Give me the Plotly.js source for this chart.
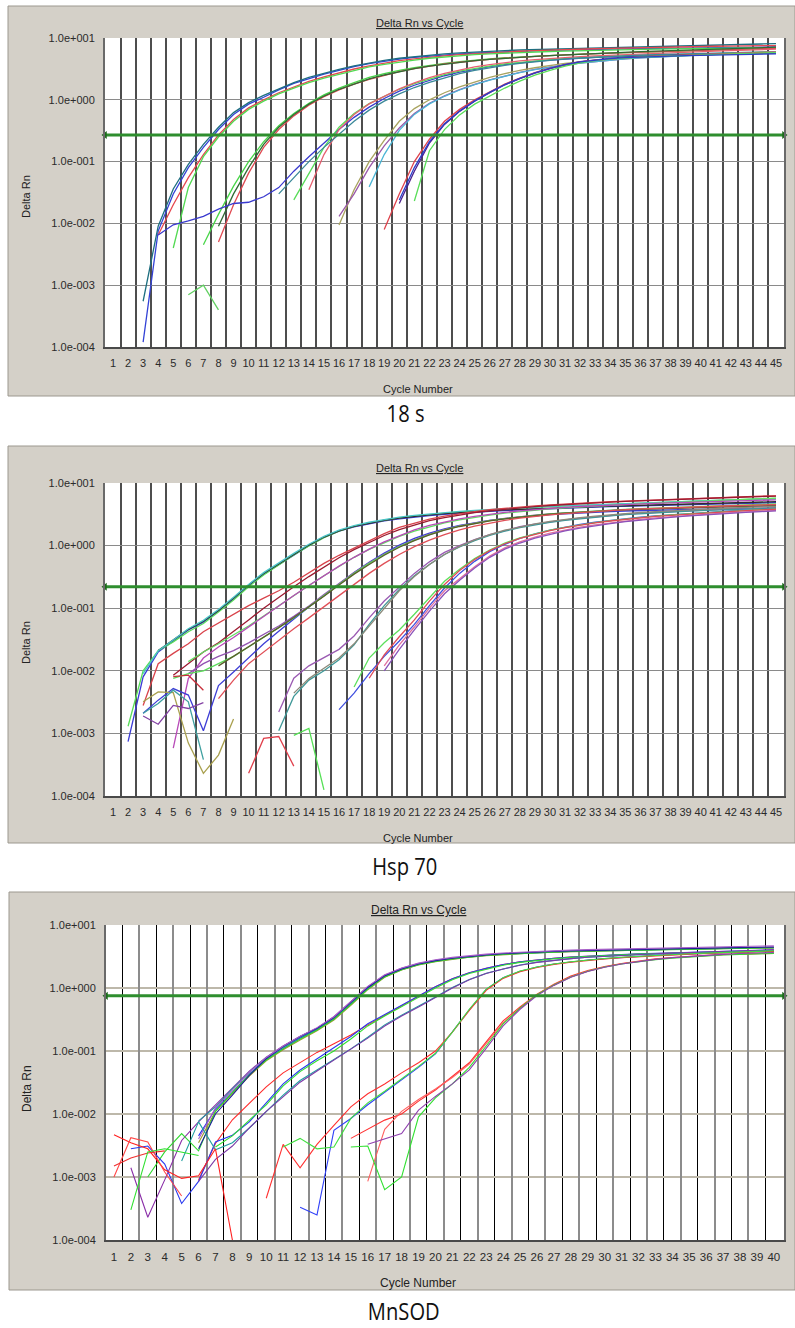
<!DOCTYPE html>
<html>
<head>
<meta charset="utf-8">
<script src="https://cdn.plot.ly/plotly-3.0.1.min.js"></script>
<style>
  html, body { margin: 0; padding: 0; background: #ffffff; }
  #chart { width: 795px; height: 1328px; }
</style>
</head>
<body>
<div id="chart"></div>
<script>
// ---------------------------------------------------------------
// Amplification plots (Delta Rn vs Cycle) for 18 s, Hsp 70, MnSOD
// Each curve: [first cycle, Delta Rn values for consecutive cycles]
// ---------------------------------------------------------------

const rnTickVals = [0.0001, 0.001, 0.01, 0.1, 1, 10];
const rnTickText = ['1.0e-004', '1.0e-003', '1.0e-002', '1.0e-001', '1.0e+000', '1.0e+001'];

const cyclesPanel18s = 45;
const cyclesHsp70 = 45;
const cyclesMnSOD = 40;

const threshold18s = 0.27;
const thresholdHsp70 = 0.22;
const thresholdMnSOD = 0.75;

// ---------------- 18 s ----------------
const rn18_a1 = [0.00012, 0.0075, 0.03, 0.08, 0.17, 0.33, 0.58, 0.85, 1.1, 1.45, 1.85, 2.2, 2.6, 3.0, 3.45, 3.85, 4.2, 4.55, 4.85, 5.1, 5.35, 5.55, 5.7, 5.85, 6.0, 6.1, 6.2, 6.3, 6.4, 6.5, 6.55, 6.6, 6.65, 6.7, 6.75, 6.8, 6.85, 6.9, 6.95, 7.0, 7.05, 7.1, 7.15];
const rn18_a2 = [0.00055, 0.009, 0.036, 0.09, 0.19, 0.36, 0.62, 0.9, 1.18, 1.52, 1.9, 2.3, 2.7, 3.1, 3.55, 3.95, 4.35, 4.7, 5.0, 5.3, 5.55, 5.75, 5.95, 6.1, 6.25, 6.4, 6.5, 6.6, 6.7, 6.8, 6.9, 7.0, 7.1, 7.2, 7.3, 7.4, 7.5, 7.6, 7.7, 7.8, 7.9, 8.0, 8.1];
const rn18_a3 = [0.0065, 0.02, 0.055, 0.13, 0.27, 0.48, 0.74, 1.0, 1.3, 1.62, 1.98, 2.35, 2.75, 3.15, 3.55, 3.95, 4.3, 4.6, 4.9, 5.15, 5.4, 5.6, 5.8, 5.95, 6.1, 6.25, 6.4, 6.5, 6.6, 6.7, 6.8, 6.9, 7.0, 7.1, 7.15, 7.2, 7.3, 7.35, 7.4, 7.45, 7.5, 7.55];
const rn18_a4 = [0.004, 0.038, 0.12, 0.25, 0.45, 0.7, 0.95, 1.25, 1.55, 1.9, 2.25, 2.6, 3.0, 3.4, 3.75, 4.1, 4.4, 4.7, 4.95, 5.2, 5.4, 5.55, 5.7, 5.85, 5.95, 6.05, 6.15, 6.25, 6.35, 6.45, 6.5, 6.55, 6.6, 6.65, 6.7, 6.75, 6.8, 6.85, 6.9, 6.95, 7.0];
const rn18_n1 = [0.0007, 0.001, 0.0004];
const rn18_b1 = [0.0045, 0.014, 0.04, 0.1, 0.21, 0.38, 0.6, 0.88, 1.2, 1.55, 1.9, 2.3, 2.65, 3.0, 3.3, 3.6, 3.9, 4.15, 4.4, 4.6, 4.8, 4.95, 5.1, 5.25, 5.4, 5.5, 5.6, 5.7, 5.8, 5.9, 6.0, 6.1, 6.2, 6.3, 6.4, 6.5, 6.6, 6.7, 6.8];
const rn18_b2 = [0.005, 0.02, 0.065, 0.17, 0.33, 0.55, 0.82, 1.12, 1.45, 1.8, 2.15, 2.5, 2.85, 3.2, 3.5, 3.8, 4.05, 4.3, 4.5, 4.7, 4.9, 5.05, 5.2, 5.35, 5.5, 5.6, 5.7, 5.8, 5.9, 6.0, 6.1, 6.2, 6.3, 6.4, 6.5, 6.6, 6.7, 6.8];
const rn18_b3 = [0.009, 0.03, 0.08, 0.19, 0.36, 0.58, 0.85, 1.15, 1.48, 1.82, 2.18, 2.52, 2.86, 3.2, 3.5, 3.78, 4.05, 4.3, 4.5, 4.7, 4.88, 5.05, 5.2, 5.35, 5.5, 5.62, 5.75, 5.88, 6.0, 6.12, 6.25, 6.38, 6.5, 6.62, 6.75, 6.88, 7.0, 7.1];
const rn18_c1 = [0.0065, 0.0095, 0.011, 0.013, 0.017, 0.021, 0.022, 0.027, 0.038, 0.07, 0.12, 0.2, 0.33, 0.52, 0.76, 1.05, 1.38, 1.72, 2.08, 2.45, 2.8, 3.15, 3.45, 3.72, 3.98, 4.2, 4.4, 4.58, 4.72, 4.85, 4.95, 5.05, 5.12, 5.2, 5.27, 5.34, 5.4, 5.46, 5.52, 5.58, 5.64, 5.7];
const rn18_c2 = [0.024, 0.065, 0.17, 0.36, 0.6, 0.87, 1.15, 1.48, 1.82, 2.18, 2.55, 2.9, 3.22, 3.52, 3.8, 4.05, 4.28, 4.48, 4.65, 4.8, 4.92, 5.03, 5.13, 5.22, 5.3, 5.38, 5.46, 5.54, 5.62, 5.7, 5.78, 5.86, 5.94];
const rn18_c3 = [0.035, 0.13, 0.33, 0.58, 0.86, 1.15, 1.5, 1.88, 2.28, 2.68, 3.05, 3.4, 3.72, 4.0, 4.25, 4.48, 4.68, 4.85, 5.0, 5.14, 5.27, 5.4, 5.52, 5.64, 5.76, 5.88, 6.0, 6.12, 6.24, 6.36, 6.48, 6.6];
const rn18_c4 = [0.03, 0.055, 0.1, 0.17, 0.28, 0.45, 0.68, 0.95, 1.25, 1.58, 1.92, 2.28, 2.64, 3.0, 3.32, 3.62, 3.9, 4.15, 4.38, 4.58, 4.75, 4.9, 5.03, 5.15, 5.26, 5.36, 5.45, 5.54, 5.63, 5.72, 5.8, 5.88, 5.96, 6.04];
const rn18_d1 = [0.0094, 0.035, 0.1, 0.22, 0.45, 0.72, 1.0, 1.3, 1.62, 1.95, 2.3, 2.65, 3.0, 3.3, 3.6, 3.88, 4.12, 4.35, 4.55, 4.72, 4.88, 5.02, 5.15, 5.28, 5.4, 5.52, 5.64, 5.76, 5.88, 6.0];
const rn18_d2 = [0.013, 0.03, 0.08, 0.18, 0.35, 0.6, 0.88, 1.16, 1.46, 1.78, 2.1, 2.44, 2.78, 3.1, 3.4, 3.68, 3.94, 4.18, 4.4, 4.6, 4.78, 4.94, 5.08, 5.2, 5.32, 5.44, 5.56, 5.68, 5.8, 5.92];
const rn18_d3 = [0.039, 0.13, 0.32, 0.58, 0.86, 1.14, 1.44, 1.76, 2.08, 2.42, 2.76, 3.08, 3.38, 3.66, 3.92, 4.16, 4.38, 4.58, 4.76, 4.92, 5.06, 5.18, 5.3, 5.42, 5.54, 5.66, 5.78, 5.9];
const rn18_e1 = [0.021, 0.07, 0.2, 0.4, 0.65, 0.95, 1.3, 1.75, 2.2, 2.7, 3.2, 3.7, 4.15, 4.45, 4.68, 4.86, 5.0, 5.12, 5.22, 5.32, 5.4, 5.48, 5.55, 5.62, 5.68, 5.74];
const rn18_e2 = [0.008, 0.03, 0.1, 0.23, 0.45, 0.7, 1.0, 1.35, 1.8, 2.25, 2.75, 3.25, 3.7, 4.1, 4.4, 4.62, 4.8, 4.95, 5.08, 5.2, 5.3, 5.4, 5.5, 5.6, 5.7, 5.8, 5.9];
const rn18_e3 = [0.023, 0.15, 0.33, 0.57, 0.85, 1.15, 1.55, 2.0, 2.5, 3.0, 3.5, 3.95, 4.3, 4.55, 4.75, 4.9, 5.02, 5.12, 5.22, 5.32, 5.42, 5.52, 5.62, 5.72, 5.82];
const rn18_e4 = [0.024, 0.08, 0.21, 0.41, 0.66, 0.96, 1.32, 1.76, 2.22, 2.72, 3.22, 3.7, 4.12, 4.42, 4.64, 4.8, 4.92, 5.02, 5.1, 5.17, 5.24, 5.3, 5.36, 5.42, 5.48, 5.54];

const curves18s = [
  [3, rn18_a1], [3, rn18_a2], [4, rn18_a3], [5, rn18_a4], [6, rn18_n1],
  [7, rn18_b1], [8, rn18_b2], [8, rn18_b3],
  [4, rn18_c1], [13, rn18_c2], [14, rn18_c3], [12, rn18_c4],
  [16, rn18_d1], [16, rn18_d2], [18, rn18_d3],
  [20, rn18_e1], [19, rn18_e2], [21, rn18_e3], [20, rn18_e4]
];
const colors18s = [
  '#3342d6', '#1e6f80', '#e6474f', '#52da52', '#62d062',
  '#48d648', '#e04a52', '#2f6b35',
  '#3a3acf', '#58dc58', '#e66070', '#3a8898',
  '#a9a35f', '#9a58aa', '#4cb5d5',
  '#4b1f8c', '#df424c', '#5ade5a', '#2d3dc9'
];

// ---------------- Hsp 70 ----------------
const rnH_1 = [0.00074, 0.008, 0.02, 0.03, 0.045, 0.06, 0.09, 0.14, 0.23, 0.35, 0.5, 0.72, 1.0, 1.35, 1.7, 2.0, 2.25, 2.48, 2.68, 2.86, 3.02, 3.16, 3.3, 3.42, 3.53, 3.63, 3.72, 3.81, 3.89, 3.97, 4.04, 4.11, 4.18, 4.25, 4.31, 4.37, 4.43, 4.49, 4.55, 4.61, 4.67, 4.73, 4.79, 4.85];
const rnH_2 = [0.0013, 0.01, 0.021, 0.029, 0.042, 0.057, 0.087, 0.135, 0.22, 0.34, 0.49, 0.71, 0.99, 1.34, 1.7, 2.02, 2.3, 2.55, 2.78, 2.98, 3.16, 3.32, 3.47, 3.6, 3.73, 3.85, 3.96, 4.07, 4.18, 4.28, 4.38, 4.48, 4.58, 4.68, 4.78, 4.88, 4.98, 5.08, 5.18, 5.28, 5.38, 5.48, 5.58, 5.68];
const rnH_3 = [0.021, 0.031, 0.046, 0.062, 0.092, 0.145, 0.235, 0.36, 0.51, 0.73, 1.02, 1.37, 1.72, 2.03, 2.3, 2.54, 2.75, 2.94, 3.1, 3.25, 3.38, 3.5, 3.61, 3.71, 3.8, 3.89, 3.97, 4.05, 4.12, 4.19, 4.26, 4.33, 4.4, 4.47, 4.54, 4.61, 4.68, 4.75, 4.82, 4.89, 4.96, 5.03];
const rnH_4 = [0.009, 0.021, 0.031, 0.047, 0.064, 0.095, 0.15, 0.24, 0.37, 0.53, 0.75, 1.05, 1.4, 1.76, 2.08, 2.36, 2.62, 2.84, 3.04, 3.22, 3.38, 3.53, 3.66, 3.78, 3.9, 4.01, 4.12, 4.22, 4.32, 4.42, 4.52, 4.62, 4.72, 4.82, 4.92, 5.02, 5.1, 5.18, 5.26, 5.34, 5.42, 5.5, 5.58];
const rnH_5 = [0.0028, 0.013, 0.019, 0.027, 0.042, 0.058, 0.08, 0.11, 0.145, 0.19, 0.26, 0.37, 0.52, 0.7, 0.92, 1.2, 1.55, 1.95, 2.3, 2.65, 2.95, 3.25, 3.5, 3.75, 3.95, 4.15, 4.32, 4.48, 4.63, 4.77, 4.9, 5.02, 5.14, 5.26, 5.38, 5.5, 5.61, 5.72, 5.83, 5.94, 6.05, 6.15, 6.25];
const rnH_6 = [0.0085, 0.013, 0.02, 0.028, 0.042, 0.065, 0.1, 0.15, 0.22, 0.32, 0.46, 0.64, 0.86, 1.12, 1.45, 1.8, 2.15, 2.5, 2.8, 3.1, 3.35, 3.6, 3.82, 4.02, 4.2, 4.37, 4.53, 4.68, 4.82, 4.95, 5.08, 5.2, 5.32, 5.44, 5.55, 5.66, 5.77, 5.88, 5.98, 6.08, 6.18];
const rnH_7 = [0.014, 0.02, 0.027, 0.037, 0.052, 0.075, 0.11, 0.16, 0.23, 0.33, 0.47, 0.65, 0.87, 1.12, 1.4, 1.7, 2.0, 2.3, 2.58, 2.84, 3.08, 3.3, 3.5, 3.68, 3.85, 4.0, 4.14, 4.27, 4.4, 4.52, 4.64, 4.76, 4.88, 5.0, 5.12, 5.24, 5.36, 5.48, 5.6, 5.72];
const rnH_8 = [0.00058, 0.0075, 0.016, 0.024, 0.034, 0.05, 0.075, 0.11, 0.16, 0.23, 0.33, 0.47, 0.65, 0.88, 1.15, 1.45, 1.78, 2.1, 2.4, 2.68, 2.94, 3.18, 3.4, 3.6, 3.78, 3.94, 4.08, 4.21, 4.33, 4.44, 4.54, 4.64, 4.73, 4.82, 4.9, 4.98, 5.06, 5.14, 5.22, 5.3, 5.38];
const rnH_9 = [0.0021, 0.0034, 0.0052, 0.0041, 0.0011, 0.0058, 0.0096, 0.016, 0.027, 0.043, 0.068, 0.105, 0.16, 0.245, 0.37, 0.54, 0.76, 1.02, 1.3, 1.58, 1.85, 2.1, 2.32, 2.52, 2.7, 2.86, 3.0, 3.12, 3.23, 3.33, 3.42, 3.5, 3.57, 3.63, 3.68, 3.73, 3.77, 3.81, 3.85, 3.88, 3.91, 3.94, 3.97];
const rnH_10 = [0.009, 0.013, 0.017, 0.021, 0.028, 0.038, 0.052, 0.074, 0.108, 0.165, 0.25, 0.37, 0.53, 0.73, 0.97, 1.24, 1.52, 1.8, 2.06, 2.3, 2.52, 2.72, 2.9, 3.06, 3.2, 3.33, 3.45, 3.56, 3.66, 3.75, 3.83, 3.9, 3.97, 4.03, 4.09, 4.14, 4.19, 4.24, 4.28, 4.32];
const rnH_11 = [0.0076, 0.009, 0.01, 0.013, 0.017, 0.024, 0.034, 0.048, 0.07, 0.105, 0.16, 0.24, 0.36, 0.52, 0.72, 0.96, 1.22, 1.5, 1.78, 2.04, 2.28, 2.5, 2.7, 2.88, 3.05, 3.2, 3.34, 3.47, 3.59, 3.7, 3.8, 3.9, 3.99, 4.08, 4.16, 4.24, 4.32, 4.4, 4.48, 4.56, 4.64];
const rnH_12 = [0.012, 0.017, 0.024, 0.034, 0.049, 0.071, 0.104, 0.155, 0.235, 0.35, 0.5, 0.7, 0.94, 1.2, 1.48, 1.76, 2.02, 2.26, 2.48, 2.68, 2.86, 3.02, 3.17, 3.3, 3.42, 3.53, 3.63, 3.72, 3.8, 3.88, 3.95, 4.02, 4.08, 4.14, 4.2, 4.25, 4.3, 4.35];
const rnH_13 = [0.0036, 0.0071, 0.013, 0.02, 0.031, 0.047, 0.07, 0.105, 0.16, 0.24, 0.36, 0.52, 0.72, 0.96, 1.22, 1.5, 1.78, 2.05, 2.3, 2.53, 2.74, 2.93, 3.1, 3.25, 3.39, 3.52, 3.64, 3.75, 3.85, 3.94, 4.03, 4.11, 4.19, 4.26, 4.33, 4.4, 4.46, 4.52];
const rnH_n1 = [0.0032, 0.0046, 0.0045, 0.0007, 0.00023, 0.00045, 0.0017];
const rnH_n2 = [0.0021, 0.003, 0.0049, 0.0032, 0.00038];
const rnH_n3 = [0.0019, 0.0014, 0.0028, 0.0025, 0.0031];
const rnH_n4 = [0.0081, 0.0085, 0.0049];
const rnH_n5 = [0.00023, 0.00083, 0.00089, 0.0003];
const rnH_n6 = [0.00093, 0.0012, 0.000125];
const rnH_14 = [0.0022, 0.0076, 0.012, 0.016, 0.022, 0.036, 0.07, 0.13, 0.22, 0.36, 0.55, 0.78, 1.0, 1.25, 1.5, 1.75, 2.0, 2.2, 2.4, 2.58, 2.75, 2.9, 3.04, 3.17, 3.29, 3.4, 3.5, 3.59, 3.67, 3.75, 3.82, 3.89, 3.95, 4.01];
const rnH_15 = [0.0011, 0.0039, 0.0071, 0.01, 0.015, 0.026, 0.055, 0.11, 0.2, 0.33, 0.5, 0.72, 0.95, 1.2, 1.45, 1.7, 1.93, 2.15, 2.35, 2.53, 2.7, 2.85, 2.99, 3.12, 3.24, 3.35, 3.45, 3.54, 3.63, 3.71, 3.79, 3.86, 3.93, 4.0];
const rnH_16 = [0.0044, 0.0075, 0.011, 0.016, 0.027, 0.052, 0.1, 0.19, 0.32, 0.5, 0.72, 0.97, 1.23, 1.5, 1.76, 2.0, 2.23, 2.44, 2.63, 2.8, 2.96, 3.11, 3.25, 3.38, 3.5, 3.61, 3.71, 3.81, 3.9, 3.99, 4.07, 4.15, 4.23];
const rnH_17 = [0.0024, 0.0044, 0.009, 0.017, 0.03, 0.055, 0.11, 0.21, 0.36, 0.56, 0.8, 1.05, 1.3, 1.54, 1.77, 1.98, 2.18, 2.36, 2.53, 2.69, 2.84, 2.98, 3.11, 3.23, 3.35, 3.46, 3.57, 3.67, 3.77, 3.87];
const rnH_18 = [0.0055, 0.016, 0.028, 0.045, 0.08, 0.15, 0.27, 0.42, 0.62, 0.85, 1.1, 1.33, 1.55, 1.76, 1.96, 2.15, 2.33, 2.5, 2.66, 2.81, 2.95, 3.08, 3.2, 3.32, 3.43, 3.54, 3.64, 3.74, 3.84];
const rnH_19 = [0.0076, 0.018, 0.035, 0.065, 0.13, 0.24, 0.4, 0.6, 0.83, 1.07, 1.3, 1.52, 1.73, 1.93, 2.12, 2.3, 2.47, 2.63, 2.78, 2.92, 3.05, 3.17, 3.29, 3.4, 3.51, 3.61, 3.71, 3.81];
const rnH_20 = [0.012, 0.026, 0.05, 0.1, 0.19, 0.3, 0.46, 0.68, 0.92, 1.15, 1.37, 1.58, 1.78, 1.97, 2.15, 2.32, 2.48, 2.63, 2.77, 2.9, 3.02, 3.14, 3.25, 3.36, 3.46, 3.56, 3.66];
const rnH_21 = [0.01, 0.022, 0.045, 0.09, 0.17, 0.28, 0.44, 0.65, 0.88, 1.1, 1.32, 1.52, 1.72, 1.9, 2.08, 2.25, 2.41, 2.56, 2.7, 2.83, 2.95, 3.07, 3.18, 3.29, 3.39, 3.49, 3.59];

const curvesHsp70 = [
  [2, rnH_1], [2, rnH_2], [4, rnH_3], [3, rnH_4],
  [3, rnH_5], [5, rnH_6], [6, rnH_7], [5, rnH_8],
  [3, rnH_9], [6, rnH_10], [5, rnH_11], [8, rnH_12], [8, rnH_13],
  [3, rnH_n1], [3, rnH_n2], [3, rnH_n3], [5, rnH_n4], [10, rnH_n5], [13, rnH_n6],
  [12, rnH_14], [12, rnH_15], [13, rnH_16],
  [16, rnH_17], [17, rnH_18], [18, rnH_19], [19, rnH_20], [19, rnH_21]
];
const colorsHsp70 = [
  '#3b3bd6', '#58de58', '#2e2e2e', '#4ac6c6',
  '#d9434b', '#9c1a30', '#62de62', '#b84ab8',
  '#3d3dd6', '#9152b0', '#5adc5a', '#5c5c2c', '#e05058',
  '#a9a04e', '#3fa0a0', '#8442a4', '#c8303c', '#e0404c', '#55e055',
  '#9a5ab2', '#3f9898', '#8c8a7a',
  '#4050e0', '#5ce05c', '#e04a58', '#e070a0', '#8a52ba'
];

// ---------------- MnSOD ----------------
const rnM_1 = [0.0014, 0.00023, 0.0009, 0.0038, 0.0075, 0.014, 0.026, 0.048, 0.08, 0.12, 0.17, 0.23, 0.35, 0.6, 1.05, 1.6, 2.05, 2.45, 2.75, 3.0, 3.2, 3.38, 3.52, 3.63, 3.73, 3.82, 3.89, 3.95, 4.0, 4.05, 4.1, 4.15, 4.2, 4.25, 4.3, 4.34, 4.38, 4.42, 4.46];
const rnM_2 = [0.0078, 0.013, 0.025, 0.046, 0.078, 0.115, 0.165, 0.22, 0.33, 0.57, 1.0, 1.55, 2.0, 2.4, 2.7, 2.95, 3.15, 3.33, 3.47, 3.58, 3.68, 3.77, 3.84, 3.9, 3.95, 4.0, 4.05, 4.1, 4.15, 4.2, 4.24, 4.28, 4.32, 4.36, 4.4];
const rnM_3 = [0.0045, 0.012, 0.022, 0.043, 0.074, 0.11, 0.16, 0.22, 0.32, 0.55, 0.98, 1.52, 1.97, 2.37, 2.68, 2.93, 3.13, 3.31, 3.45, 3.56, 3.66, 3.75, 3.82, 3.88, 3.93, 3.98, 4.03, 4.08, 4.13, 4.18, 4.22, 4.26, 4.3, 4.34, 4.38];
const rnM_4 = [0.0035, 0.011, 0.021, 0.04, 0.07, 0.105, 0.15, 0.21, 0.31, 0.53, 0.94, 1.48, 1.93, 2.32, 2.62, 2.87, 3.07, 3.25, 3.4, 3.52, 3.62, 3.71, 3.78, 3.84, 3.89, 3.94, 3.99, 4.04, 4.09, 4.13, 4.17, 4.21, 4.25, 4.29, 4.33];
const rnM_5 = [0.001, 0.0025, 0.0049, 0.0026, 0.011, 0.022, 0.042, 0.072, 0.108, 0.155, 0.215, 0.32, 0.55, 0.96, 1.5, 1.95, 2.35, 2.65, 2.9, 3.1, 3.28, 3.42, 3.53, 3.63, 3.72, 3.79, 3.85, 3.9, 3.95, 4.0, 4.05, 4.1, 4.14, 4.18, 4.22, 4.26, 4.3, 4.34];
const rnM_6 = [0.0028, 0.01, 0.02, 0.041, 0.076, 0.118, 0.17, 0.23, 0.34, 0.58, 1.02, 1.56, 2.0, 2.4, 2.72, 2.97, 3.17, 3.35, 3.5, 3.62, 3.72, 3.81, 3.88, 3.94, 4.0, 4.06, 4.11, 4.16, 4.21, 4.26, 4.3, 4.34, 4.38, 4.42, 4.46];
const rnM_7 = [0.004, 0.0125, 0.024, 0.046, 0.079, 0.12, 0.172, 0.235, 0.35, 0.6, 1.06, 1.62, 2.08, 2.48, 2.8, 3.06, 3.27, 3.45, 3.6, 3.72, 3.82, 3.91, 3.99, 4.06, 4.12, 4.18, 4.24, 4.3, 4.36, 4.42, 4.47, 4.52, 4.57, 4.62, 4.67];
const rnM_8 = [0.0009, 0.0034, 0.0081, 0.015, 0.027, 0.045, 0.065, 0.095, 0.13, 0.18, 0.26, 0.37, 0.52, 0.74, 1.05, 1.4, 1.75, 2.05, 2.35, 2.6, 2.8, 2.95, 3.1, 3.2, 3.3, 3.38, 3.45, 3.52, 3.58, 3.63, 3.68, 3.72, 3.76, 3.8, 3.84];
const rnM_9 = [0.0028, 0.0031, 0.0016, 0.00038, 0.00085, 0.0036, 0.0046, 0.0075, 0.015, 0.03, 0.05, 0.075, 0.11, 0.17, 0.27, 0.38, 0.52, 0.74, 1.05, 1.4, 1.75, 2.05, 2.35, 2.6, 2.8, 2.96, 3.1, 3.22, 3.32, 3.41, 3.49, 3.56, 3.63, 3.7, 3.76, 3.82, 3.88, 3.94, 4.0];
const rnM_10 = [0.003, 0.0045, 0.008, 0.014, 0.028, 0.047, 0.07, 0.1, 0.155, 0.25, 0.36, 0.5, 0.71, 1.0, 1.35, 1.7, 2.0, 2.3, 2.55, 2.75, 2.92, 3.06, 3.18, 3.28, 3.37, 3.45, 3.52, 3.59, 3.65, 3.7, 3.75, 3.8, 3.85, 3.9];
const rnM_11 = [0.0018, 0.0075, 0.0027, 0.0035, 0.006, 0.011, 0.02, 0.034, 0.05, 0.074, 0.108, 0.165, 0.26, 0.37, 0.51, 0.72, 1.02, 1.37, 1.72, 2.02, 2.32, 2.57, 2.77, 2.93, 3.07, 3.19, 3.29, 3.38, 3.46, 3.53, 3.6, 3.66, 3.72, 3.78, 3.84, 3.9];
const rnM_12 = [0.00085, 0.0019, 0.0031, 0.006, 0.011, 0.019, 0.032, 0.048, 0.072, 0.105, 0.16, 0.25, 0.36, 0.5, 0.7, 1.0, 1.35, 1.7, 2.0, 2.3, 2.55, 2.76, 2.93, 3.08, 3.2, 3.31, 3.41, 3.5, 3.58, 3.66, 3.74, 3.82, 3.9, 3.98, 4.06];
const rnM_13 = [0.00033, 0.00025, 0.0055, 0.0085, 0.014, 0.022, 0.035, 0.055, 0.09, 0.2, 0.45, 0.95, 1.45, 1.85, 2.15, 2.4, 2.6, 2.78, 2.93, 3.06, 3.18, 3.29, 3.39, 3.48, 3.57, 3.65, 3.73, 3.81, 3.89];
const rnM_14 = [0.00046, 0.0033, 0.0014, 0.0033, 0.0066, 0.013, 0.021, 0.03, 0.045, 0.065, 0.1, 0.2, 0.44, 0.92, 1.42, 1.82, 2.12, 2.37, 2.57, 2.75, 2.9, 3.03, 3.15, 3.26, 3.36, 3.45, 3.53, 3.61, 3.68, 3.75, 3.82];
const rnM_15 = [0.003, 0.0041, 0.0028, 0.003, 0.0085, 0.015, 0.023, 0.036, 0.057, 0.092, 0.2, 0.46, 0.96, 1.46, 1.86, 2.16, 2.41, 2.61, 2.79, 2.94, 3.07, 3.19, 3.3, 3.4, 3.49, 3.58, 3.66, 3.74, 3.82, 3.9];
const rnM_16 = [0.0041, 0.0057, 0.008, 0.01, 0.016, 0.024, 0.04, 0.065, 0.14, 0.3, 0.5, 0.8, 1.15, 1.55, 1.9, 2.2, 2.45, 2.7, 2.9, 3.05, 3.2, 3.3, 3.4, 3.45, 3.5, 3.55];
const rnM_17 = [0.00085, 0.0057, 0.011, 0.017, 0.025, 0.038, 0.062, 0.13, 0.28, 0.48, 0.78, 1.12, 1.5, 1.85, 2.15, 2.42, 2.66, 2.86, 3.02, 3.16, 3.27, 3.37, 3.45, 3.52, 3.58];
const rnM_18 = [0.003, 0.0031, 0.00063, 0.001, 0.009, 0.018, 0.03, 0.055, 0.12, 0.27, 0.48, 0.78, 1.12, 1.5, 1.85, 2.15, 2.4, 2.62, 2.82, 2.98, 3.12, 3.24, 3.34, 3.42, 3.49, 3.55];
const rnM_19 = [0.0033, 0.004, 0.0049, 0.0115, 0.019, 0.03, 0.05, 0.11, 0.25, 0.46, 0.76, 1.1, 1.48, 1.83, 2.13, 2.4, 2.64, 2.85, 3.03, 3.18, 3.31, 3.42, 3.52, 3.6, 3.67];
const rnM_n1 = [0.0047, 0.0035, 0.0028, 0.0013, 0.00095, 0.00105, 0.0028, 0.0001];
const rnM_n2 = [0.001, 0.0042, 0.0036, 0.0012, 0.0005];
const rnM_n3 = [0.0015, 0.002, 0.0024, 0.0026];
const rnM_n4 = [0.0003, 0.0025, 0.0028, 0.0025, 0.0022];

const curvesMnSOD = [
  [2, rnM_1], [6, rnM_2], [6, rnM_3], [6, rnM_4], [3, rnM_5], [6, rnM_6], [6, rnM_7],
  [6, rnM_8], [2, rnM_9], [7, rnM_10], [5, rnM_11], [6, rnM_12],
  [12, rnM_13], [10, rnM_14], [11, rnM_15],
  [15, rnM_16], [16, rnM_17], [15, rnM_18], [16, rnM_19],
  [1, rnM_n1], [1, rnM_n2], [1, rnM_n3], [2, rnM_n4]
];
const colorsMnSOD = [
  '#8a2ea8', '#1f9a9a', '#2030f0', '#9c9a30', '#30d830', '#202098', '#a860c8',
  '#ff2a2a', '#2a3af0', '#30e030', '#20a0a0', '#7c3aa8',
  '#3040f8', '#ff3030', '#40e040',
  '#ff3030', '#ff6060', '#30e030', '#9040b0',
  '#ff2020', '#ff4848', '#f03030', '#30e030'
];

// ---------------------------------------------------------------
// Drawing
// ---------------------------------------------------------------
const W = 795, H = 1328;
const FONT = '"Liberation Sans", Arial, Helvetica, sans-serif';
const CAPTION_FONT = '"Open Sans", "Noto Sans", sans-serif';
const px = v => v / W;
const py = v => 1 - v / H;

function cycleList(n) {
  const out = [];
  for (let c = 1; c <= n; c++) out.push(c);
  return out;
}

function curveTraces(curves, colors, xa, ya, width) {
  return curves.map(([start, rn], i) => ({
    type: 'scatter', mode: 'lines',
    x: rn.map((_, k) => start + k), y: rn,
    xaxis: xa, yaxis: ya,
    line: { color: colors[i], width: width },
    hoverinfo: 'skip', showlegend: false
  }));
}

function thresholdTrace(value, xRange, xa, ya) {
  return {
    type: 'scatter', mode: 'lines+markers',
    x: [xRange[0], xRange[1]], y: [value, value],
    xaxis: xa, yaxis: ya,
    line: { color: '#2e8e2e', width: 3 },
    marker: { symbol: ['triangle-left', 'triangle-right'], size: 7, color: '#1c6a1c' },
    cliponaxis: false, hoverinfo: 'skip', showlegend: false
  };
}

function xAxisMain(domain, anchor, n, range, minorVals, minorColor, minorWidth, fontSize) {
  const ticks = cycleList(n);
  return {
    domain: domain, anchor: anchor, range: range, type: 'linear',
    tickmode: 'array', tickvals: ticks, ticktext: ticks.map(String), tickangle: 0,
    showgrid: false, zeroline: false, ticks: '',
    showline: true, linecolor: '#4a4a4a', linewidth: 2,
    tickfont: { family: FONT, size: fontSize, color: '#2a2a2a' },
    ticklabelstandoff: 5,
    minor: { tickmode: 'array', tickvals: minorVals, showgrid: true, gridcolor: minorColor, gridwidth: minorWidth, ticks: '' },
    fixedrange: true
  };
}

function yAxisMain(domain, anchor, gridColor, gridWidth, lineColor) {
  return {
    domain: domain, anchor: anchor, type: 'log', range: [-4, 1],
    tickmode: 'array', tickvals: rnTickVals, ticktext: rnTickText,
    showgrid: true, gridcolor: gridColor, gridwidth: gridWidth,
    zeroline: false, ticks: '',
    showline: true, mirror: true, linecolor: lineColor, linewidth: 2,
    tickfont: { family: FONT, size: 11, color: '#2a2a2a' },
    ticklabelstandoff: 6,
    fixedrange: true
  };
}

const range18s = [0.47, 45.53];
const rangeHsp70 = [0.47, 45.53];
const rangeMnSOD = [0.53, 40.6];

const halves18s = cycleList(cyclesPanel18s).slice(0, -1).map(c => c + 0.5);
const halvesHsp70 = cycleList(cyclesHsp70).slice(0, -1).map(c => c + 0.5);
const halvesMnSOD = cycleList(cyclesMnSOD).slice(0, -1).map(c => c + 0.5);
const oddHalvesMnSOD = halvesMnSOD.filter(v => Math.floor(v) % 2 === 1);
const evenHalvesMnSOD = halvesMnSOD.filter(v => Math.floor(v) % 2 === 0);

const domX12 = [px(105), px(784)];
const domX3 = [px(106), px(784)];
const domY1 = [py(347), py(38)];
const domY2 = [py(796), py(483)];
const domY3 = [py(1240), py(925)];

const traces = [].concat(
  curveTraces(curves18s, colors18s, 'x', 'y', 1.3),
  [thresholdTrace(threshold18s, range18s, 'x', 'y')],
  curveTraces(curvesHsp70, colorsHsp70, 'x2', 'y2', 1.3),
  [thresholdTrace(thresholdHsp70, rangeHsp70, 'x2', 'y2')],
  curveTraces(curvesMnSOD, colorsMnSOD, 'x3', 'y3', 1.1),
  [thresholdTrace(thresholdMnSOD, rangeMnSOD, 'x3', 'y3')],
  [{ type: 'scatter', x: [], y: [], xaxis: 'x4', yaxis: 'y3', hoverinfo: 'skip', showlegend: false }]
);

// panel frames (grey dialog backgrounds) and white plotting areas
const shapes = [];
function panelBox(x0, y0, x1, y1) {
  shapes.push({ type: 'rect', xref: 'paper', yref: 'paper', x0: px(x0), x1: px(x1), y0: py(y1), y1: py(y0),
    fillcolor: '#d4d0c8', line: { color: '#9c988f', width: 1 }, layer: 'below' });
}
function whiteArea(xa, ya) {
  shapes.push({ type: 'rect', xref: xa + ' domain', yref: ya + ' domain', x0: 0, x1: 1, y0: 0, y1: 1,
    fillcolor: '#ffffff', line: { width: 0 }, layer: 'below' });
}
panelBox(8, 6, 795, 396);
panelBox(8, 446, 795, 843);
panelBox(9, 892, 795, 1290);
whiteArea('x', 'y');
whiteArea('x2', 'y2');
whiteArea('x3', 'y3');

const annotations = [];
function addText(text, x, y, size, extra) {
  annotations.push(Object.assign({
    text: text, x: px(x), y: py(y), xref: 'paper', yref: 'paper',
    showarrow: false, xanchor: 'center', yanchor: 'middle',
    font: { family: FONT, size: size, color: '#222222' }
  }, extra || {}));
}
// chart titles
addText('<u>Delta Rn vs Cycle</u>', 419, 23, 11);
addText('<u>Delta Rn vs Cycle</u>', 419, 468, 11);
addText('<u>Delta Rn vs Cycle</u>', 419, 910, 12);
// axis titles
addText('Cycle Number', 418, 389, 11);
addText('Cycle Number', 418, 838, 11);
addText('Cycle Number', 418, 1283, 12);
addText('Delta Rn', 26, 197, 11, { textangle: -90 });
addText('Delta Rn', 26, 643, 11, { textangle: -90 });
addText('Delta Rn', 27, 1089, 12, { textangle: -90 });
// gene captions (set in a condensed face below)
const captionFont = { family: CAPTION_FONT, size: 24, color: '#111111' };
const captionStart = annotations.length;
addText('18 s', 405, 412, 24, { font: captionFont });
addText('Hsp 70', 405, 865, 24, { font: captionFont });
addText('MnSOD', 404, 1310, 24, { font: captionFont });

const layout = {
  width: W, height: H, autosize: false,
  margin: { l: 0, r: 0, t: 0, b: 0, pad: 0 },
  paper_bgcolor: '#ffffff', plot_bgcolor: '#ffffff',
  showlegend: false,
  xaxis: xAxisMain(domX12, 'y', cyclesPanel18s, range18s, halves18s, '#4d4d4d', 2, 11),
  yaxis: yAxisMain(domY1, 'x', '#8a8a8a', 1, '#6a6a6a'),
  xaxis2: xAxisMain(domX12, 'y2', cyclesHsp70, rangeHsp70, halvesHsp70, '#4d4d4d', 2, 11),
  yaxis2: yAxisMain(domY2, 'x2', '#8a8a8a', 1, '#6a6a6a'),
  xaxis3: xAxisMain(domX3, 'y3', cyclesMnSOD, rangeMnSOD, oddHalvesMnSOD, '#000000', 1, 11.5),
  yaxis3: yAxisMain(domY3, 'x3', '#bdb8aa', 2, '#6a6a6a'),
  xaxis4: {
    overlaying: 'x3', anchor: 'y3', range: rangeMnSOD, type: 'linear',
    tickmode: 'array', tickvals: evenHalvesMnSOD,
    showgrid: true, gridcolor: '#8c8c8c', gridwidth: 2,
    showticklabels: false, ticks: '', zeroline: false, showline: false, fixedrange: true
  },
  shapes: shapes,
  annotations: annotations
};

Plotly.newPlot('chart', traces, layout, { staticPlot: true, displayModeBar: false }).then(gd => {
  // narrow the caption lettering horizontally
  for (let i = captionStart; i < captionStart + 3; i++) {
    const t = gd.querySelector('.annotation[data-index="' + i + '"] text.annotation-text');
    if (t) {
      t.style.transformBox = 'fill-box';
      t.style.transformOrigin = 'center';
      t.style.transform = 'scaleX(0.84)';
    }
  }
});
</script>
</body>
</html>
